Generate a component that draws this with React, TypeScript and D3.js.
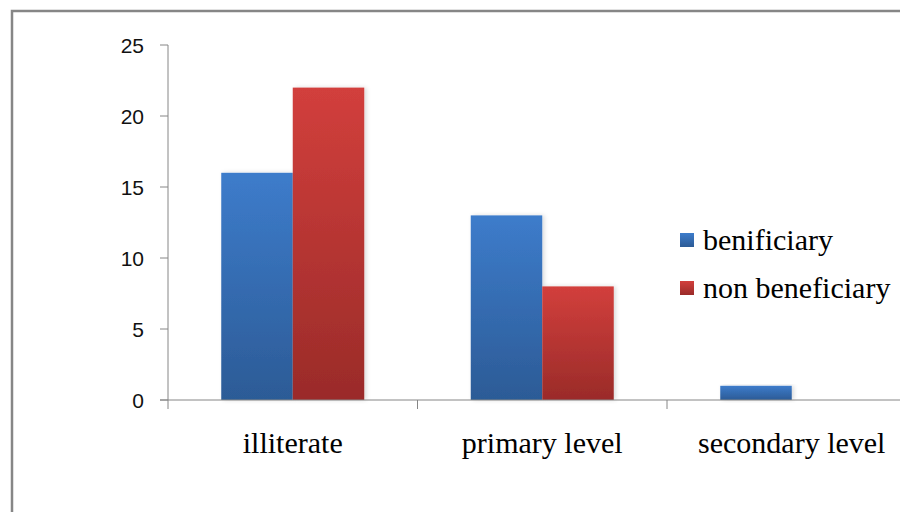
import React from "react";
import * as d3 from "d3";

const categories = ["illiterate", "primary level", "secondary level"];
const seriesNames = ["benificiary", "non beneficiary"];
const beneficiary = [16, 13, 1];
const nonBeneficiary = [22, 8, 0];
const yTicks = [0, 5, 10, 15, 20, 25];

const W = 900;
const H = 512;

export default function App() {
  const x = d3.scaleBand<string>().domain(categories).range([168, 916.5]).paddingInner(0).paddingOuter(0);
  const y = d3.scaleLinear().domain([0, 25]).range([400, 45]);
  const colors = ["blue", "red"];
  const data = [beneficiary, nonBeneficiary];
  const groupW = 143;
  const barW = groupW / 2;
  return (
    <svg width={W} height={H} style={{ position: "absolute", left: 0, top: 0 }} xmlns="http://www.w3.org/2000/svg">
      <defs>
        <linearGradient id="blue" x1="0" y1="0" x2="0" y2="1">
          <stop offset="0" stopColor="#3d7ccb" />
          <stop offset="1" stopColor="#2c5b96" />
        </linearGradient>
        <linearGradient id="red" x1="0" y1="0" x2="0" y2="1">
          <stop offset="0" stopColor="#d23f3c" />
          <stop offset="1" stopColor="#9a2b29" />
        </linearGradient>
        <filter id="sh" x="-10%" y="-10%" width="130%" height="130%">
          <feDropShadow dx="2" dy="0" stdDeviation="2" floodColor="#000" floodOpacity="0.15" />
        </filter>
      </defs>
      <rect x={0} y={0} width={W} height={H} fill="#fff" />
      <path d={`M12,${H} L12,11 L${W},11`} fill="none" stroke="#868686" strokeWidth={2.5} />
      {categories.map((c, i) => {
        const cx = (x(c) as number) + x.bandwidth() / 2;
        return data.map((s, k) => {
          const v = s[i];
          if (v <= 0) return null;
          const bx = cx - groupW / 2 + k * barW;
          return (
            <rect key={c + k} x={bx} y={y(v)} width={barW} height={y(0) - y(v)} fill={`url(#${colors[k]})`} filter="url(#sh)" />
          );
        });
      })}
      <line x1={168} x2={168} y1={y(25)} y2={y(0)} stroke="#868686" strokeWidth={1} />
      {yTicks.map((t) => (
        <g key={t}>
          <line x1={160} x2={168} y1={y(t)} y2={y(t)} stroke="#868686" strokeWidth={1} />
          <text x={144} y={y(t)} dy="0.36em" textAnchor="end" fontFamily="'Liberation Sans', sans-serif" fontSize={21} fill="#111">
            {t}
          </text>
        </g>
      ))}
      <line x1={160} x2={W} y1={y(0)} y2={y(0)} stroke="#868686" strokeWidth={1} />
      {categories.map((c) => (
        <line key={c} x1={x(c) as number} x2={x(c) as number} y1={y(0)} y2={y(0) + 9} stroke="#868686" strokeWidth={1} />
      ))}
      {categories.map((c) => (
        <text key={c} x={(x(c) as number) + x.bandwidth() / 2} y={453} textAnchor="middle" fontFamily="'Liberation Serif', serif" fontSize={30} fill="#000">
          {c}
        </text>
      ))}
      {seriesNames.map((n, k) => (
        <g key={n} transform={`translate(680, ${233 + k * 48})`}>
          <rect x={0} y={0} width={14} height={14} fill={`url(#${colors[k]})`} />
          <text x={23} y={17} fontFamily="'Liberation Serif', serif" fontSize={30} fill="#000">
            {n}
          </text>
        </g>
      ))}
    </svg>
  );
}
